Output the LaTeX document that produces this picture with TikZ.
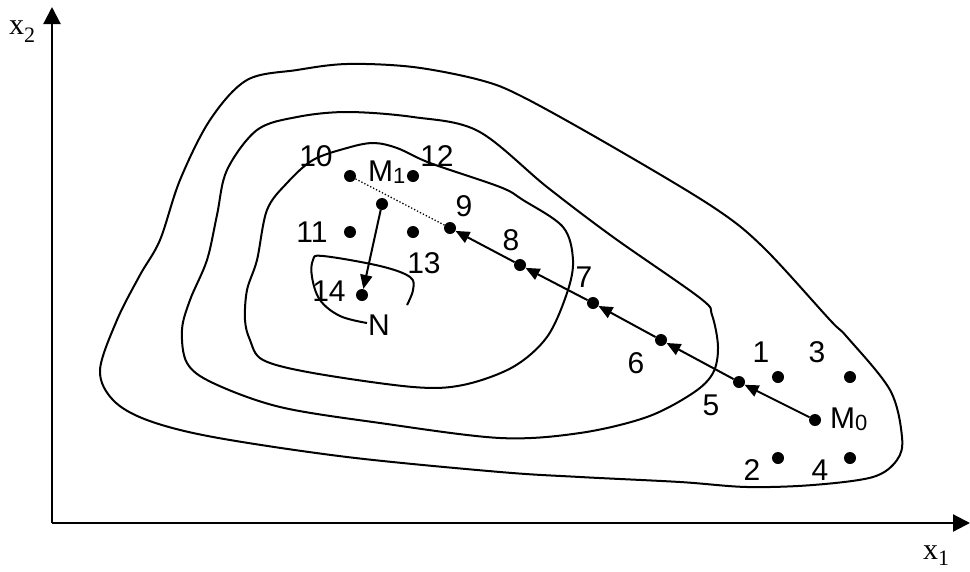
\documentclass[tikz,border=0pt]{standalone}
\usepackage{fontspec}
\setmainfont{Liberation Sans}
\newfontfamily\tms{Liberation Serif}
\usetikzlibrary{arrows.meta}
\begin{document}
\begin{tikzpicture}[x=1pt,y=-1pt,
  dot/.style={circle,fill=black,inner sep=0pt,minimum size=12pt},
  lbl/.style={inner sep=0pt,font=\fontsize{30}{30}\selectfont},
  contour/.style={line width=2pt,line join=round},
  arr/.style={line width=2pt,-{Triangle[length=14pt,width=12pt]}},
  axis/.style={line width=2.2pt,-{Triangle[length=17pt,width=17pt]}}]
\useasboundingbox (0,0) rectangle (970,571);
% axes
\coordinate (o) at (52,523);
\coordinate (ytip) at (52,7);
\coordinate (xtip) at (970,523);
\draw[axis] (o) -- (ytip);
\draw[axis] (o) -- (xtip);
\node[anchor=base west,inner sep=0pt,font=\fontsize{30}{30}\selectfont\tms] (xtwo) at (9,34) {x\raisebox{-8pt}{\fontsize{22}{22}\selectfont 2}};
\node[anchor=base west,inner sep=0pt,font=\fontsize{30}{30}\selectfont\tms] (xone) at (923,559) {x\raisebox{-6pt}{\fontsize{22}{22}\selectfont 1}};
% contours
\draw[contour] plot[smooth cycle,tension=0.55] coordinates {
 (100,370) (117,320) (140,275) (160,240) (180,180) (210,120) (247,80) (297,70)
 (347,64) (413,67) (480,80) (523,97) (613,147) (713,207) (763,247) (830,320)
 (847,337) (890,390) (902,437) (897,460) (873,477) (813,485) (747,487) (680,482)
 (580,477) (500,472) (347,457) (213,437) (147,420) (113,400)};
\draw[contour] plot[smooth cycle,tension=0.55] coordinates {
 (182,330) (190,300) (207,260) (217,215) (227,170) (257,130) (297,117) (347,112)
 (413,117) (478,131) (547,187) (613,237) (700,298) (712,315) (718,347) (713,373)
 (693,393) (647,417) (580,433) (500,438) (380,423) (280,407) (213,383) (187,363)};
\draw[contour] plot[smooth cycle,tension=0.55] coordinates {
 (245,320) (247,290) (257,260) (267,210) (287,183) (313,160) (347,148) (373,143)
 (397,148) (430,163) (500,187) (523,200) (563,227) (573,260) (567,293) (547,337)
 (513,367) (463,385) (413,387) (313,373) (263,360) (250,340)};
\draw[contour] plot[smooth,tension=0.6] coordinates {
 (407,305) (413,290) (410,277) (380,266) (323,256) (313,260) (312,277) (320,300)
 (340,316) (367,323)};
% dots
\node[dot] (m0) at (815,420) {};
\node[dot] (d1) at (778,377) {};
\node[dot] (d3) at (850,377) {};
\node[dot] (d2) at (778,458) {};
\node[dot] (d4) at (850,458) {};
\node[dot] (d5) at (739,382) {};
\node[dot] (d6) at (661,340) {};
\node[dot] (d7) at (593,303) {};
\node[dot] (d8) at (520,265) {};
\node[dot] (d9) at (450,228) {};
\node[dot] (m1) at (350,176) {};
\node[dot] (d12) at (413,176) {};
\node[dot] (mid) at (382,204) {};
\node[dot] (d11) at (350,232) {};
\node[dot] (d13) at (413,232) {};
\node[dot] (d14) at (362,295) {};
% connectors
\draw[arr] (m0) -- (d5);
\draw[arr] (d5) -- (d6);
\draw[arr] (d6) -- (d7);
\draw[arr] (d7) -- (d8);
\draw[arr] (d8) -- (d9);
\draw[line width=1.3pt,dotted] (m1) -- (d9);
\draw[arr] (mid) -- (d14);
% labels
\node[lbl] (l10) at (316,156) {10};
\node[lbl] (l12) at (437,156) {12};
\node[lbl] (l9) at (464,206) {9};
\node[lbl] (l11) at (312,232) {11};
\node[lbl] (l13) at (424,263) {13};
\node[lbl] (l14) at (329,291) {14};
\node[lbl] (lN) at (379,325) {N};
\node[lbl] (l8) at (511,240) {8};
\node[lbl] (l7) at (584,277) {7};
\node[lbl] (l6) at (636,363) {6};
\node[lbl] (l5) at (711,405) {5};
\node[lbl] (l1) at (761,352) {1};
\node[lbl] (l3) at (817,352) {3};
\node[lbl] (l2) at (752,470) {2};
\node[lbl] (l4) at (820,470) {4};
\node[lbl,anchor=base west] (lm1) at (368,181) {M\raisebox{-2pt}{\fontsize{22}{22}\selectfont 1}};
\node[lbl,anchor=base west] (lm0) at (830,428) {M\raisebox{-2pt}{\fontsize{22}{22}\selectfont 0}};
\end{tikzpicture}
\end{document}
